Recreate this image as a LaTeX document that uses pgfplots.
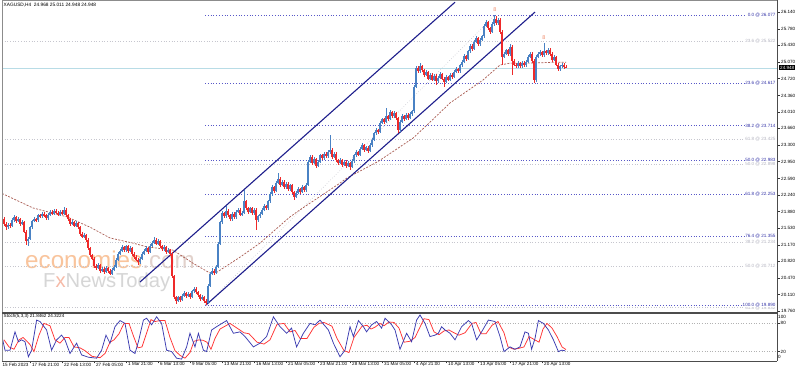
\documentclass[border=0pt]{standalone}
\usepackage{fontspec}
\setmainfont{Liberation Sans}
\usepackage{pgfplots}
\pgfplotsset{compat=1.18}
\usepackage{pgfplotstable}
\definecolor{bull}{HTML}{4A82C4}
\definecolor{bear}{HTML}{EE2A2A}
\definecolor{mac}{HTML}{A85A50}
\definecolor{chan}{HTML}{1E1E8C}
\definecolor{fibb}{HTML}{5858C8}
\definecolor{fibt}{HTML}{3434A8}
\definecolor{fibg}{HTML}{C6C6CE}
\definecolor{fibgt}{HTML}{B4B4C0}
\definecolor{cur}{HTML}{B8DCE6}
\definecolor{stk}{HTML}{3A3AB0}
\definecolor{std}{HTML}{FF3434}
\definecolor{wmo}{HTML}{F9C49C}
\definecolor{wmc}{HTML}{E2D2CC}
\definecolor{wmg}{HTML}{D6D6D6}
\definecolor{frac}{HTML}{F08C6C}
\newcommand{\tf}{\fontsize{4.6}{5}\selectfont}

\pgfplotstableread{
j o h l c
3 21.72 21.76 21.58 21.62
4 21.62 21.66 21.50 21.55
5 21.55 21.64 21.52 21.60
6 21.60 21.63 21.54 21.58
7 21.58 21.74 21.56 21.70
8 21.70 21.80 21.67 21.76
9 21.76 21.79 21.64 21.68
10 21.68 21.76 21.65 21.72
11 21.72 21.75 21.58 21.62
12 21.62 21.70 21.59 21.66
13 21.66 21.69 21.42 21.45
14 21.45 21.48 21.18 21.25
15 21.25 21.34 21.15 21.30
16 21.30 21.58 21.27 21.55
17 21.55 21.71 21.52 21.68
18 21.68 21.76 21.65 21.72
19 21.72 21.75 21.66 21.70
20 21.70 21.84 21.67 21.80
21 21.80 21.83 21.74 21.78
22 21.78 21.88 21.75 21.84
23 21.84 21.87 21.77 21.80
24 21.80 21.83 21.70 21.74
25 21.74 21.86 21.71 21.82
26 21.82 21.92 21.79 21.88
27 21.88 21.91 21.80 21.84
28 21.84 21.94 21.81 21.90
29 21.90 21.93 21.83 21.86
30 21.86 21.89 21.78 21.82
31 21.82 21.92 21.79 21.88
32 21.88 21.91 21.80 21.84
33 21.84 21.98 21.81 21.92
34 21.92 21.96 21.77 21.80
35 21.80 21.83 21.68 21.72
36 21.72 21.75 21.58 21.62
37 21.62 21.70 21.59 21.66
38 21.66 21.69 21.55 21.58
39 21.58 21.68 21.55 21.64
40 21.64 21.67 21.52 21.55
41 21.55 21.58 21.37 21.40
42 21.40 21.44 21.31 21.35
43 21.35 21.42 21.32 21.38
44 21.38 21.41 21.24 21.28
45 21.28 21.31 21.06 21.10
46 21.10 21.13 20.91 20.95
47 20.95 20.98 20.84 20.88
48 20.88 20.91 20.68 20.72
49 20.72 20.76 20.64 20.68
50 20.68 20.78 20.65 20.74
51 20.74 20.77 20.58 20.62
52 20.62 20.70 20.59 20.66
53 20.66 20.69 20.56 20.60
54 20.60 20.72 20.57 20.68
55 20.68 20.71 20.58 20.62
56 20.62 20.65 20.52 20.56
57 20.56 20.68 20.53 20.64
58 20.64 20.74 20.61 20.70
59 20.70 20.89 20.67 20.85
60 20.85 21.02 20.82 20.98
61 20.98 21.09 20.95 21.05
62 21.05 21.16 21.02 21.12
63 21.12 21.15 21.02 21.06
64 21.06 21.18 21.03 21.14
65 21.14 21.17 21.00 21.04
66 21.04 21.14 21.01 21.10
67 21.10 21.13 20.94 20.98
68 20.98 21.01 20.88 20.92
69 20.92 20.95 20.82 20.86
70 20.86 20.89 20.74 20.80
71 20.80 20.92 20.77 20.88
72 20.88 21.02 20.85 20.98
73 20.98 21.09 20.95 21.05
74 21.05 21.14 21.02 21.10
75 21.10 21.13 20.98 21.02
76 21.02 21.19 20.99 21.15
77 21.15 21.26 21.12 21.22
78 21.22 21.34 21.19 21.28
79 21.28 21.31 21.16 21.20
80 21.20 21.29 21.17 21.25
81 21.25 21.28 21.10 21.14
82 21.14 21.17 21.04 21.08
83 21.08 21.16 21.05 21.12
84 21.12 21.15 20.98 21.02
85 21.02 21.10 20.99 21.06
86 21.06 21.09 20.94 20.98
87 20.98 21.01 20.46 20.50
88 20.50 20.53 20.02 20.06
89 20.06 20.09 19.92 19.98
90 19.98 20.09 19.95 20.05
91 20.05 20.08 19.96 20.00
92 20.00 20.12 19.97 20.08
93 20.08 20.18 20.05 20.14
94 20.14 20.17 20.04 20.08
95 20.08 20.16 20.05 20.12
96 20.12 20.15 20.02 20.06
97 20.06 20.22 20.03 20.18
98 20.18 20.28 20.15 20.24
99 20.24 20.27 20.12 20.16
100 20.16 20.19 20.06 20.10
101 20.10 20.13 19.98 20.02
102 20.02 20.10 19.99 20.06
103 20.06 20.09 19.94 19.98
104 19.98 20.01 19.89 19.94
105 19.94 20.34 19.91 20.30
106 20.30 20.59 20.27 20.55
107 20.55 20.68 20.52 20.62
108 20.62 20.65 20.54 20.58
109 20.58 20.74 20.55 20.70
110 20.70 21.24 20.67 21.20
111 21.20 21.69 21.17 21.65
112 21.65 21.89 21.62 21.85
113 21.85 21.88 21.74 21.78
114 21.78 22.00 21.75 21.90
115 21.90 21.93 21.76 21.80
116 21.80 21.83 21.68 21.72
117 21.72 21.88 21.69 21.84
118 21.84 21.87 21.72 21.76
119 21.76 21.92 21.73 21.88
120 21.88 21.96 21.85 21.92
121 21.92 21.95 21.78 21.82
122 21.82 21.90 21.79 21.86
123 21.86 22.34 21.83 22.10
124 22.10 22.13 21.91 21.95
125 21.95 21.98 21.84 21.88
126 21.88 21.99 21.85 21.95
127 21.95 21.98 21.81 21.85
128 21.85 21.96 21.82 21.92
129 21.92 21.95 21.49 21.70
130 21.70 21.82 21.67 21.78
131 21.78 21.88 21.75 21.84
132 21.84 21.96 21.81 21.92
133 21.92 22.04 21.89 22.00
134 22.00 22.03 21.91 21.95
135 21.95 22.14 21.92 22.10
136 22.10 22.29 22.07 22.25
137 22.25 22.44 22.22 22.40
138 22.40 22.43 22.28 22.32
139 22.32 22.54 22.29 22.50
140 22.50 22.70 22.47 22.58
141 22.58 22.61 22.41 22.45
142 22.45 22.56 22.42 22.52
143 22.52 22.55 22.36 22.40
144 22.40 22.52 22.37 22.48
145 22.48 22.51 22.32 22.36
146 22.36 22.48 22.33 22.44
147 22.44 22.47 22.26 22.30
148 22.30 22.33 22.12 22.20
149 22.20 22.32 22.17 22.28
150 22.28 22.40 22.25 22.36
151 22.36 22.39 22.26 22.30
152 22.30 22.44 22.27 22.40
153 22.40 22.43 22.30 22.34
154 22.34 22.49 22.31 22.45
155 22.45 22.99 22.42 22.95
156 22.95 23.09 22.92 23.05
157 23.05 23.08 22.88 22.92
158 22.92 23.04 22.89 23.00
159 23.00 23.03 22.82 22.86
160 22.86 22.99 22.83 22.95
161 22.95 23.12 22.92 23.08
162 23.08 23.11 22.98 23.02
163 23.02 23.16 22.99 23.12
164 23.12 23.15 23.02 23.06
165 23.06 23.19 23.03 23.15
166 23.15 23.52 23.12 23.20
167 23.20 23.23 23.01 23.05
168 23.05 23.16 23.02 23.12
169 23.12 23.15 22.94 22.98
170 22.98 23.01 22.88 22.92
171 22.92 23.02 22.89 22.98
172 22.98 23.01 22.84 22.88
173 22.88 22.99 22.85 22.95
174 22.95 22.98 22.82 22.86
175 22.86 22.96 22.83 22.92
176 22.92 22.95 22.78 22.84
177 22.84 23.00 22.81 22.96
178 22.96 23.12 22.93 23.08
179 23.08 23.19 23.05 23.15
180 23.15 23.18 23.06 23.10
181 23.10 23.26 23.07 23.22
182 23.22 23.34 23.19 23.30
183 23.30 23.33 23.16 23.20
184 23.20 23.29 23.17 23.25
185 23.25 23.28 23.14 23.18
186 23.18 23.34 23.15 23.30
187 23.30 23.46 23.27 23.42
188 23.42 23.59 23.39 23.55
189 23.55 23.66 23.52 23.62
190 23.62 23.65 23.54 23.58
191 23.58 23.82 23.55 23.78
192 23.78 23.89 23.75 23.85
193 23.85 23.88 23.76 23.80
194 23.80 24.09 23.77 23.92
195 23.92 23.95 23.82 23.86
196 23.86 24.04 23.83 24.00
197 24.00 24.03 23.88 23.92
198 23.92 24.02 23.89 23.98
199 23.98 24.01 23.84 23.88
200 23.88 23.91 23.56 23.62
201 23.62 23.84 23.59 23.80
202 23.80 23.96 23.77 23.92
203 23.92 23.95 23.82 23.86
204 23.86 23.99 23.83 23.95
205 23.95 23.98 23.84 23.88
206 23.88 24.00 23.85 23.96
207 23.96 24.06 23.93 24.02
208 24.02 24.59 23.99 24.55
209 24.55 24.99 24.52 24.95
210 24.95 24.98 24.84 24.88
211 24.88 25.05 24.85 24.98
212 24.98 25.01 24.86 24.90
213 24.90 24.93 24.76 24.80
214 24.80 24.90 24.77 24.86
215 24.86 24.89 24.68 24.72
216 24.72 24.84 24.69 24.80
217 24.80 24.83 24.66 24.70
218 24.70 24.82 24.67 24.78
219 24.78 24.81 24.58 24.66
220 24.66 24.78 24.63 24.74
221 24.74 24.86 24.71 24.82
222 24.82 24.85 24.68 24.72
223 24.72 24.75 24.55 24.65
224 24.65 24.79 24.62 24.75
225 24.75 24.78 24.66 24.70
226 24.70 24.84 24.67 24.80
227 24.80 24.83 24.72 24.76
228 24.76 24.90 24.73 24.86
229 24.86 24.96 24.83 24.92
230 24.92 24.95 24.84 24.88
231 24.88 25.04 24.85 25.00
232 25.00 25.12 24.97 25.08
233 25.08 25.24 25.05 25.20
234 25.20 25.23 25.10 25.14
235 25.14 25.34 25.11 25.30
236 25.30 25.46 25.27 25.42
237 25.42 25.45 25.31 25.35
238 25.35 25.54 25.32 25.50
239 25.50 25.62 25.47 25.58
240 25.58 25.61 25.41 25.45
241 25.45 25.59 25.42 25.55
242 25.55 25.66 25.52 25.62
243 25.62 25.89 25.59 25.85
244 25.85 25.96 25.82 25.92
245 25.92 25.95 25.76 25.80
246 25.80 25.83 25.68 25.72
247 25.72 25.92 25.69 25.88
248 25.88 26.077 25.85 26.00
249 26.00 26.06 25.86 25.90
250 25.90 26.02 25.87 25.98
251 25.98 26.01 25.68 25.72
252 25.72 25.75 25.00 25.18
253 25.18 25.29 25.15 25.25
254 25.25 25.36 25.22 25.32
255 25.32 25.35 25.20 25.24
256 25.24 25.45 25.21 25.40
257 25.40 25.43 24.80 25.10
258 25.10 25.13 24.98 25.02
259 25.02 25.05 24.94 24.98
260 24.98 25.09 24.95 25.05
261 25.05 25.08 24.94 24.98
262 24.98 25.10 24.95 25.06
263 25.06 25.09 24.96 25.00
264 25.00 25.12 24.97 25.08
265 25.08 25.22 25.05 25.18
266 25.18 25.29 25.15 25.25
267 25.25 25.28 25.06 25.10
268 25.10 25.13 24.62 24.68
269 24.68 25.22 24.65 25.18
270 25.18 25.28 25.15 25.24
271 25.24 25.32 25.21 25.28
272 25.28 25.31 25.18 25.22
273 25.22 25.48 25.19 25.30
274 25.30 25.33 25.22 25.26
275 25.26 25.38 25.23 25.34
276 25.34 25.37 25.21 25.25
277 25.25 25.28 25.08 25.12
278 25.12 25.22 25.09 25.18
279 25.18 25.21 24.98 25.02
280 25.02 25.05 24.88 24.92
281 24.92 25.02 24.89 24.98
282 24.98 25.06 24.95 25.02
283 25.02 25.05 24.93 24.968
284 24.968 25.011 24.948 24.948
}\candles

\pgfplotsset{
  candle/.style n args={3}{restrict expr to domain={\thisrow{c}-\thisrow{o}}{#1}, draw=none, mark=none, forget plot,
    error bars/.cd, y dir=both, y explicit, error mark=none,
    error bar style={draw=#2, line width=#3, solid}},
}

\begin{document}
\begin{tikzpicture}
\path[use as bounding box, fill=white] (0bp,0bp) rectangle (798bp,372bp);
% watermark
\node[anchor=base west, inner sep=0pt, font=\fontsize{24.3}{26}\selectfont] at (25bp,103bp) {\textcolor{wmo}{economies}\textcolor{wmc}{.com}};
\node[anchor=base west, inner sep=0pt, font=\fontsize{20.3}{22}\selectfont, text=wmg] at (43bp,84bp) {F\textcolor{frac!60}{x}NewsToday};

\begin{axis}[
  name=main,
  at={(2bp,60bp)}, anchor=south west, scale only axis,
  width=775bp, height=311bp,
  xmin=2, xmax=389.5, ymin=19.740, ymax=26.376,
  axis line style={draw=none},
  xtick=\empty,
  ytick={19.76,20.11,20.47,20.82,21.17,21.53,21.88,22.24,22.59,22.95,23.30,23.66,24.01,24.36,24.72,25.07,25.43,25.78,26.14},
  yticklabels={19.760,20.110,20.470,20.820,21.170,21.530,21.880,22.240,22.590,22.950,23.300,23.660,24.010,24.360,24.720,25.070,25.430,25.780,26.140},
  ytick pos=right, yticklabel pos=right, tick align=outside,
  major tick length=3bp,
  tick style={black!80, line width=0.5bp},
  yticklabel style={font=\tf, anchor=west, inner sep=0pt, xshift=1bp},
  /pgf/number format/assume math mode=true,
]
% gray fib set
\addplot[fibg, dotted, line width=0.7bp] coordinates {(2,25.522) (389.5,25.522)};
\addplot[fibg, dotted, line width=0.7bp] coordinates {(2,23.425) (389.5,23.425)};
\addplot[fibg, dotted, line width=0.7bp] coordinates {(2,22.898) (389.5,22.898)};
\addplot[fibg, dotted, line width=0.7bp] coordinates {(2,21.234) (389.5,21.234)};
\addplot[fibg, dotted, line width=0.7bp] coordinates {(2,20.712) (389.5,20.712)};
\addplot[fibg, dotted, line width=0.7bp] coordinates {(2,19.832) (389.5,19.832)};
% current price line
\addplot[cur, line width=0.7bp] coordinates {(2,24.948) (389.5,24.948)};
% blue fib set
\addplot[fibb, dotted, line width=0.8bp] coordinates {(103.5,26.077) (389.5,26.077)};
\addplot[fibb, dotted, line width=0.8bp] coordinates {(103.5,24.617) (389.5,24.617)};
\addplot[fibb, dotted, line width=0.8bp] coordinates {(103.5,23.714) (389.5,23.714)};
\addplot[fibb, dotted, line width=0.8bp] coordinates {(103.5,22.983) (389.5,22.983)};
\addplot[fibb, dotted, line width=0.8bp] coordinates {(103.5,22.253) (389.5,22.253)};
\addplot[fibb, dotted, line width=0.8bp] coordinates {(103.5,21.355) (389.5,21.355)};
\addplot[fibb, dotted, line width=0.8bp] coordinates {(103.5,19.890) (389.5,19.890)};
% fib trend line
\addplot[fibg, dotted, line width=0.6bp] coordinates {(104,19.890) (248.5,26.077)};
% moving average
\addplot[mac, dash pattern=on 2bp off 1.4bp, line width=0.7bp] coordinates {
(2,22.27) (17.5,21.96) (34.5,21.77) (46,21.55) (56,21.32) (67.5,21.21) (74.5,21.13)
(87.5,21.06) (97.5,20.78) (106,20.57) (109.5,20.59) (121,20.91) (131,21.21) (146,21.77)
(151,21.92) (171,22.49) (174.5,22.60) (190,22.95) (207.5,23.45) (216,23.79) (226,24.20)
(242.5,24.69) (251,25.01) (256,25.05) (266,25.05) (279.5,25.07) (284,25.07)};
% channel
\addplot[chan, line width=1.1bp] coordinates {(71,20.38) (228.5,26.35)};
\addplot[chan, line width=1.1bp] coordinates {(104,19.89) (268.5,26.14)};
% candles: wicks
\addplot[candle={0:10}{bull}{0.6bp}]
  table[x=j, y expr={(\thisrow{h}+\thisrow{l})/2}, y error expr={(\thisrow{h}-\thisrow{l})/2}] {\candles};
\addplot[candle={-10:-0.00001}{bear}{0.6bp}]
  table[x=j, y expr={(\thisrow{h}+\thisrow{l})/2}, y error expr={(\thisrow{h}-\thisrow{l})/2}] {\candles};
% candles: bodies
\addplot[candle={0:10}{bull}{1.4bp}]
  table[x=j, y expr={(\thisrow{o}+\thisrow{c})/2}, y error expr={max(abs(\thisrow{c}-\thisrow{o})/2,0.006)}] {\candles};
\addplot[candle={-10:-0.00001}{bear}{1.4bp}]
  table[x=j, y expr={(\thisrow{o}+\thisrow{c})/2}, y error expr={max(abs(\thisrow{c}-\thisrow{o})/2,0.006)}] {\candles};
% fractal marks
\addplot[draw=none, mark=none, nodes near coords={8},
  every node near coord/.style={anchor=center, inner sep=0pt, font=\fontsize{5.5}{6}\selectfont, text=frac}]
  coordinates {(248.5,26.19) (273,25.60)};
% fib labels
\node[anchor=east, fill=white, inner sep=0.4bp, text=fibgt, font=\tf] at (axis cs:389,25.522) {23.6 @ 25.522};
\node[anchor=east, fill=white, inner sep=0.4bp, text=fibgt, font=\tf] at (axis cs:389,23.425) {61.8 @ 23.425};
\node[anchor=east, fill=white, inner sep=0.4bp, text=fibgt, font=\tf] at (axis cs:389,22.898) {50.0 @ 22.898};
\node[anchor=east, fill=white, inner sep=0.4bp, text=fibgt, font=\tf] at (axis cs:389,21.234) {38.2 @ 21.234};
\node[anchor=east, fill=white, inner sep=0.4bp, text=fibgt, font=\tf] at (axis cs:389,20.712) {50.0 @ 20.712};
\node[anchor=east, fill=white, inner sep=0.4bp, text=fibgt, font=\tf] at (axis cs:389,19.832) {61.8 @ 19.832};
\node[anchor=east, fill=white, inner sep=0.4bp, text=fibt, font=\tf] at (axis cs:389,26.077) {0.0 @ 26.077};
\node[anchor=east, fill=white, inner sep=0.4bp, text=fibt, font=\tf] at (axis cs:389,24.617) {23.6 @ 24.617};
\node[anchor=east, fill=white, inner sep=0.4bp, text=fibt, font=\tf] at (axis cs:389,23.714) {38.2 @ 23.714};
\node[anchor=east, fill=white, inner sep=0.4bp, text=fibt, font=\tf] at (axis cs:389,22.983) {50.0 @ 22.983};
\node[anchor=east, fill=white, inner sep=0.4bp, text=fibt, font=\tf] at (axis cs:389,22.253) {61.8 @ 22.253};
\node[anchor=east, fill=white, inner sep=0.4bp, text=fibt, font=\tf] at (axis cs:389,21.355) {76.4 @ 21.355};
\node[anchor=east, fill=white, inner sep=0.4bp, text=fibt, font=\tf] at (axis cs:389,19.890) {100.0 @ 19.890};
\coordinate (curp) at (axis cs:389.5,24.948);
\end{axis}

\begin{axis}[
  name=stoch,
  at={(2bp,11bp)}, anchor=south west, scale only axis,
  width=775bp, height=47bp,
  xmin=2, xmax=389.5, ymin=0, ymax=100,
  axis line style={draw=none},
  xtick={16,32,48,64,80,96,112,128,144,160,176,192,208,224,240,256,272},
  xticklabels={17 Feb 21:00,22 Feb 13:00,27 Feb 05:00,1 Mar 21:00,6 Mar 13:00,9 Mar 05:00,13 Mar 21:00,16 Mar 13:00,21 Mar 05:00,23 Mar 21:00,28 Mar 13:00,31 Mar 05:00,4 Apr 21:00,10 Apr 13:00,13 Apr 05:00,17 Apr 21:00,20 Apr 13:00},
  xtick pos=bottom, ytick pos=right, yticklabel pos=right,
  tick align=outside, major tick length=2.5bp,
  tick style={black!80, line width=0.5bp},
  xticklabel style={font=\tf, anchor=north west, inner sep=0pt, xshift=2bp, yshift=1bp},
  ytick={20,80}, yticklabels={20,80},
  extra y ticks={8.5,93.6}, extra y tick labels={0,100},
  extra y tick style={major tick length=0pt},
  yticklabel style={font=\tf, anchor=west, inner sep=0pt, xshift=1bp},
  /pgf/number format/assume math mode=true,
]
\addplot[black!30, dotted, line width=0.6bp] coordinates {(2,80) (389.5,80)};
\addplot[black!30, dotted, line width=0.6bp] coordinates {(2,20) (389.5,20)};
\addplot[std, line width=0.75bp] coordinates {
(3,45) (5.5,30) (8,25) (10.5,45) (12.5,50) (14,44) (16,35) (18,20) (20.5,55) (23,80) (26,75)
(28.5,45) (31,38) (33.5,50) (35.5,50) (38,30) (41,28) (43.5,22) (47,10) (51,7) (53.5,16)
(56,40) (58,45) (60.5,58) (63,80) (65.5,80) (68,50) (70,28) (72,30) (74.5,62) (76.5,88)
(78.5,84) (81,86) (83.5,86) (86,50) (88.5,22) (91,12) (93.5,6) (96,18) (98,42) (100.5,45)
(102.5,44) (104.5,40) (106.5,25) (108.5,48) (111,68) (116,80) (119.5,70) (123,60) (125.5,58)
(129.5,40) (133,36) (136,45) (139.5,78) (143,80) (146,62) (148.5,65) (151,48) (154.5,48)
(158,72) (160.5,80) (163,82) (167,74) (169.5,48) (173,22) (175.5,18) (178,50) (180,62)
(182,74) (184.5,76) (186.5,68) (188.5,72) (191,80) (193,75) (195.5,83) (198,82) (200.5,70)
(203,40) (206,42) (208.5,50) (211,72) (213,90) (215.5,88) (218,62) (220.5,56) (223,64)
(225.5,66) (228,60) (230.5,55) (233.5,60) (237,80) (239,82) (241.5,58) (244,58) (247,76)
(250,84) (253,60) (255,30) (258,25) (260.5,27) (263,30) (265.5,52) (268,46) (270.5,40)
(272.5,68) (274.5,80) (277,70) (279.5,52) (282,30) (284,24.3)};
\addplot[stk, line width=0.75bp] coordinates {
(2,52) (3.5,23) (6,23) (8.5,62) (10.2,41) (11.8,45) (13.5,41) (15.2,9) (16.8,23) (19.3,87)
(21,84) (24.3,66) (26.8,23) (29.3,45) (31.8,55) (33.5,45) (36,16) (39.3,38) (41.8,13)
(45.2,8) (49.3,6) (51.8,23) (54,55) (56,38) (58.5,73) (61,86) (63.5,80) (66,23) (68.5,16)
(70.2,41) (72.7,87) (74.3,91) (76.8,77) (79.3,94) (81.8,80) (84.3,23) (86.8,20) (89.3,6)
(91.8,4) (94.3,30) (96,59) (98.5,30) (100.2,59) (102.7,23) (104.3,20) (106.8,66) (109.3,73)
(114.3,86) (117.7,59) (121,62) (123.5,52) (127.7,30) (131,38) (134.3,52) (137.7,94) (141,73)
(144.3,59) (146.8,70) (149.3,30) (152.7,59) (156,80) (158.5,77) (161,87) (165.2,66)
(167.7,38) (171,9) (173.5,23) (176,73) (177.7,52) (180.2,86) (182.7,73) (184.3,62)
(186.8,77) (189.3,84) (191.8,70) (193.5,91) (196.8,77) (198.5,66) (201,25) (204.3,59)
(206.8,41) (209.3,87) (211,98) (213.5,80) (216,52) (218.5,55) (220.2,59) (221.8,73)
(223.5,66) (226,59) (228.5,45) (231.8,73) (235.2,86) (236.8,80) (239.3,45) (241.8,62)
(245.2,87) (248.5,84) (251,52) (253,20) (256,30) (258.5,25) (261,30) (263.5,62) (265.2,59)
(266.8,25) (268.5,48) (270.2,86) (272.7,80) (275.2,66) (277.7,45) (280.2,20) (281.8,23)
(283.5,21.8)};
\end{axis}

% frame
\draw[black!45, line width=0.8bp] (2bp,11bp) -- (2bp,371.6bp) -- (777bp,371.6bp);
\draw[black!70, line width=0.8bp] (777bp,11bp) -- (777bp,371.6bp);
\draw[black!70, line width=1.6bp] (2bp,59bp) -- (777bp,59bp);
\draw[black!70, line width=0.8bp] (2bp,11bp) -- (777bp,11bp);
% texts
\node[anchor=west, inner sep=0pt, font=\fontsize{4.8}{5}\selectfont] at (3.5bp,366.5bp) {XAGUSD,H4\ \ 24.968 25.011 24.948 24.948};
\node[anchor=west, inner sep=0pt, font=\tf] at (3.5bp,55.5bp) {Stoch(5,3,3) 21.8462 24.3224};
\node[anchor=north west, inner sep=0pt, font=\tf] at (2.5bp,8.8bp) {15 Feb 2023};
\node[anchor=west, fill=black, text=white, inner xsep=1bp, inner ysep=0.8bp, font=\tf] at ([xshift=2bp]curp) {24.948};
\end{tikzpicture}
\end{document}
